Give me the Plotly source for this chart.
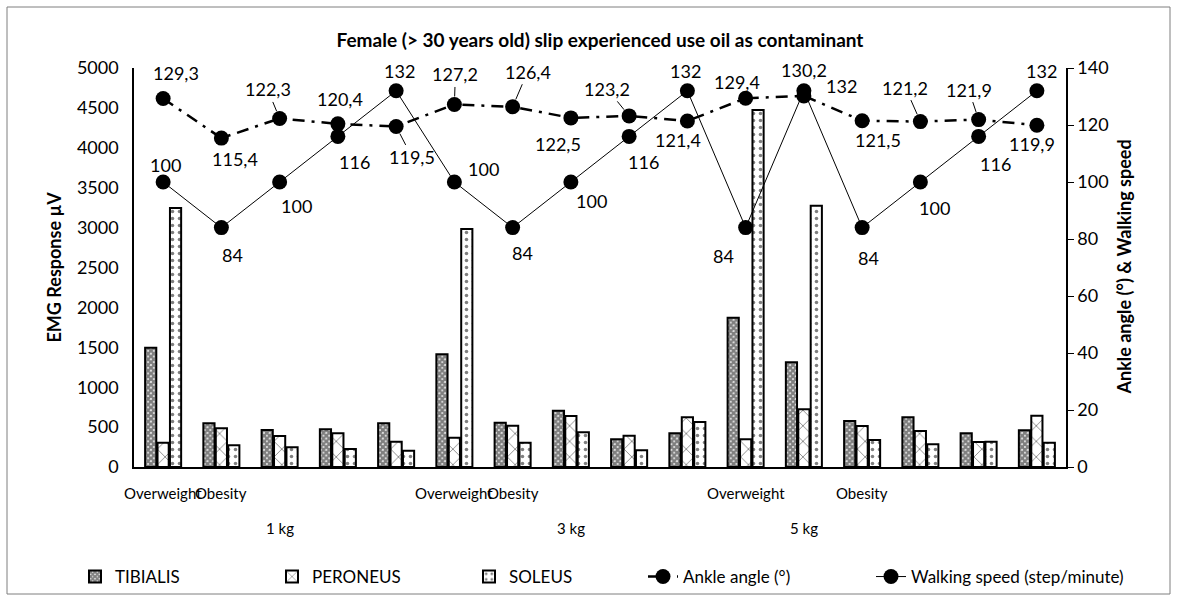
import plotly.graph_objects as go

# ---------------- data ----------------
groups = list(range(16))
tibialis = [1495, 548, 464, 472, 548, 1412, 555, 705, 347, 422, 1871, 1312, 576, 623, 422, 460]
peroneus = [305, 485, 388, 422, 317, 367, 518, 639, 392, 623, 347, 723, 514, 451, 313, 643]
soleus = [3245, 272, 247, 225, 204, 2982, 305, 435, 209, 564, 4473, 3274, 338, 284, 317, 305]
ankle_angle = [129.3, 115.4, 122.3, 120.4, 119.5, 127.2, 126.4, 122.5, 123.2, 121.4, 129.4, 130.2, 121.5, 121.2, 121.9, 119.9]
walking_speed = [100, 84, 100, 116, 132, 100, 84, 100, 116, 132, 84, 132, 84, 100, 116, 132]

cat_pos = [0, 1, 5, 6, 10, 12]
cat_labels = ["Overweight", "Obesity", "Overweight", "Obesity", "Overweight", "Obesity"]
load_pos = [2, 7, 11]
load_labels = ["1 kg", "3 kg", "5 kg"]

# label offsets in pixels (styling only)
ankle_off = [(13, -25), (14, 21), (-12, -29), (2, -25), (16, 31), (1, -30), (15, -35), (-13, 26),
             (-22, -27), (-9, 19), (-9, -16), (0, -26), (16, 19), (-15, -34), (-10, -30), (-5, 19)]
ankle_leader = [0, 0, 1, 0, 1, 1, 1, 0, 1, 0, 1, 0, 0, 1, 1, 0]
speed_off = [(2, -17), (11, 27), (17, 24), (17, 26), (3, -20), (29, -13), (10, 25), (21, 19),
             (14, 26), (-2, -20), (-22, 28), (38, -5), (6, 30), (14, 26), (17, 28), (5, -20)]

FONT = "Lato"
L, R, T, B = 134, 111, 68, 134
PW, PH = 1177 - L - R, 601 - T - B

fig = go.Figure()

bar_line = dict(color="black", width=2)
fig.add_trace(go.Bar(x=groups, y=tibialis, name="TIBIALIS", legend="legend",
                     marker=dict(color="white", line=bar_line,
                                 pattern=dict(shape="x", size=4, solidity=0.85, fgcolor="black", bgcolor="white"))))
fig.add_trace(go.Bar(x=groups, y=peroneus, name="PERONEUS", legend="legend",
                     marker=dict(color="white", line=bar_line,
                                 pattern=dict(shape="x", size=11, solidity=0.15, fgcolor="black", bgcolor="white"))))
fig.add_trace(go.Bar(x=groups, y=soleus, name="SOLEUS", legend="legend",
                     marker=dict(color="white", line=bar_line,
                                 pattern=dict(shape=".", size=7, solidity=0.2, fgcolor="black", bgcolor="white"))))

fig.add_trace(go.Scatter(x=groups, y=ankle_angle, name="Ankle angle (°)", yaxis="y2", legend="legend2",
                         mode="lines+markers",
                         line=dict(color="black", width=2.5, dash="12px,7px,3px,7px"),
                         marker=dict(color="black", size=15)))
fig.add_trace(go.Scatter(x=groups, y=walking_speed, name="Walking speed (step/minute)", yaxis="y2",
                         legend="legend3", mode="lines+markers",
                         line=dict(color="black", width=1),
                         marker=dict(color="black", size=15)))

annotations = []
for i, v in enumerate(ankle_angle):
    ax, ay = ankle_off[i]
    annotations.append(dict(x=groups[i], y=v, xref="x", yref="y2",
                            text=f"{v:.1f}".replace(".", ","), showarrow=True,
                            ax=ax, ay=ay, arrowhead=0, arrowwidth=1, standoff=8,
                            arrowcolor="black" if ankle_leader[i] else "rgba(0,0,0,0)",
                            font=dict(family=FONT, size=18, color="black")))
for i, v in enumerate(walking_speed):
    ax, ay = speed_off[i]
    annotations.append(dict(x=groups[i], y=v, xref="x", yref="y2",
                            text=str(v), showarrow=True,
                            ax=ax, ay=ay, arrowhead=0, arrowwidth=1,
                            arrowcolor="rgba(0,0,0,0)",
                            font=dict(family=FONT, size=18, color="black")))
for p, t in zip(cat_pos, cat_labels):
    annotations.append(dict(x=p, y=(T + PH - 493) / PH, xref="x", yref="paper", text=t, showarrow=False,
                            yanchor="middle", font=dict(family=FONT, size=15, color="black")))
for p, t in zip(load_pos, load_labels):
    annotations.append(dict(x=p, y=(T + PH - 528) / PH, xref="x", yref="paper", text=t, showarrow=False,
                            yanchor="middle", font=dict(family=FONT, size=15, color="black")))
# axis titles placed explicitly
annotations.append(dict(x=(40 - L) / PW, y=0.5, xref="paper", yref="paper", textangle=-90,
                        text="<b>EMG Response µV</b>", showarrow=False,
                        font=dict(family=FONT, size=18, color="black")))
annotations.append(dict(x=(1136 - L) / PW, y=0.5, xref="paper", yref="paper", textangle=-90,
                        text="<b>Ankle angle (°) & Walking speed</b>", showarrow=False,
                        font=dict(family=FONT, size=18, color="black")))

leg_y = (T + PH - 577) / PH
leg_common = dict(orientation="h", xanchor="left", y=leg_y, yanchor="middle",
                  font=dict(family=FONT, size=17), bgcolor="rgba(0,0,0,0)")

fig.update_layout(
    width=1177, height=601,
    margin=dict(l=L, r=R, t=T, b=B, autoexpand=False),
    paper_bgcolor="white", plot_bgcolor="white",
    font=dict(family=FONT, color="black"),
    title=dict(text="<b>Female (> 30 years old) slip experienced use oil as contaminant</b>",
               x=0.5, xref="paper", xanchor="center", y=1 - 40 / 601, yanchor="middle",
               font=dict(family=FONT, size=19, color="black")),
    barmode="group", bargap=0.36, bargroupgap=0.1,
    xaxis=dict(range=[-0.5, 15.5], showticklabels=False, ticks="", showgrid=False, zeroline=False,
               showline=True, linecolor="black", linewidth=2, automargin=False),
    yaxis=dict(range=[0, 5000], dtick=500, showgrid=False, zeroline=False, automargin=False,
               showline=True, linecolor="black", linewidth=1.5, ticks="", ticklabelstandoff=10,
               tickfont=dict(family=FONT, size=18)),
    yaxis2=dict(range=[0, 140], dtick=20, overlaying="y", side="right", showgrid=False, zeroline=False,
                showline=True, linecolor="black", linewidth=1.5, ticks="outside", ticklen=6,
                automargin=False, tickcolor="black", tickfont=dict(family=FONT, size=18)),
    legend=dict(x=(75 - L) / PW, entrywidth=152, entrywidthmode="pixels", traceorder="normal", **leg_common),
    legend2=dict(x=(643 - L) / PW, **leg_common),
    legend3=dict(x=(871 - L) / PW, **leg_common),
    showlegend=True,
    annotations=annotations,
    shapes=[dict(type="rect", xref="paper", yref="paper",
                 x0=(7 - L) / PW, x1=(1170 - L) / PW,
                 y0=(T + PH - 594) / PH, y1=(T + PH - 7) / PH,
                 line=dict(color="#7f7f7f", width=1), fillcolor="rgba(0,0,0,0)", layer="below")],
)

fig.write_html("out.html", config={"displayModeBar": False},
               post_script="document.body.style.margin='0';document.body.style.overflow='hidden';")
